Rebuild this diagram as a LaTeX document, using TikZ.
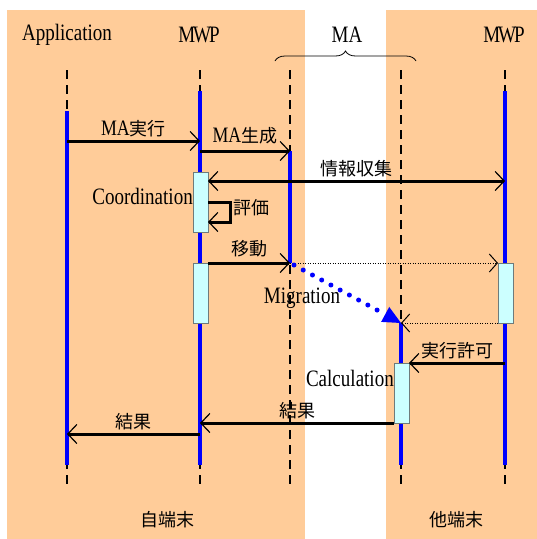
\documentclass[tikz,border=0pt]{standalone}
\usepackage{fontspec}
\setmainfont[FakeStretch=0.81]{Liberation Serif}
\newfontfamily\jfont{Noto Sans CJK JP}
\usetikzlibrary{arrows.meta,decorations.pathreplacing,positioning}

\begin{document}
\begin{tikzpicture}[x=1pt, y=-1pt]
    \definecolor{peachColour}{HTML}{FFCC99}
    \definecolor{lifeColour}{HTML}{0000FF}
    \definecolor{boxColour}{HTML}{CCFFFF}
    \definecolor{boxBorder}{HTML}{6E7B7B}

    \tikzset{
        header/.style={font=\fontsize{23.5}{25}\selectfont, inner sep=0pt},
        jlabel/.style={font=\fontsize{18}{20}\selectfont\jfont, inner sep=2pt},
        life/.style={draw=lifeColour, line width=4.5pt},
        lifedash/.style={draw=black, line width=1.8pt, dash pattern=on 9pt off 6pt},
        actbox/.style={draw=boxBorder, fill=boxColour, line width=1pt,
            minimum width=15pt, minimum height=60pt, inner sep=0pt},
        barb/.tip={Straight Barb[length=9pt, width=19pt, line width'=1.2pt]},
        msg/.style={line width=3pt, -barb},
        dotmsg/.style={line width=1pt, dash pattern=on 1pt off 1.5pt,
            -{Straight Barb[length=8pt, width=18pt, line width'=1pt, sep=0pt]}},
        migrate/.style={draw=lifeColour, line width=5pt, line cap=round,
            dash pattern=on 0pt off 10.5pt,
            -{Triangle[length=18pt, width=17pt, fill=lifeColour, line width'=0pt]}}
    }
    \newcommand\lat[1]{{\rmfamily\fontsize{22}{24}\selectfont #1}}

    \useasboundingbox (0,0) rectangle (537,539);

    % Draw regions
    \fill[peachColour] (7,10) rectangle (305,539);
    \fill[peachColour] (386,10) rectangle (537,539);

    % Draw headers
    \node[header] (app) at (67,35) {Application};
    \node[header] (mwpL) at (199,35) {M\kern-2ptW\kern-2ptP};
    \node[header] (ma) at (347,35) {MA};
    \node[header] (mwpR) at (504,35) {M\kern-2ptW\kern-2ptP};

    % Draw brace under MA
    \coordinate (braceL) at (275,61);
    \coordinate (braceR) at (416,61);
    \draw[decorate, decoration={brace, amplitude=10pt}, line width=0.8pt] (braceL) -- (braceR);

    % Draw dashed lifelines
    \foreach \name/\x in {app/67, mwpL/200, maL/290, maR/401, mwpR/505} {
        \coordinate (\name Top) at (\x,70);
        \coordinate (\name Bot) at (\x,488);
        \draw[lifedash] (\name Top) -- (\name Bot);
    }

    % Draw active lifelines
    \draw[life] (67,111) -- (67,465);
    \draw[life] (200,91) -- (200,465);
    \draw[life] (290,151) -- (290,263);
    \draw[life] (401,323) -- (401,465);
    \draw[life] (505,91) -- (505,465);

    % Draw activation boxes
    \node[actbox] (coord) at (200.5,202) {};
    \node[actbox] (moveL) at (200.5,293) {};
    \node[actbox] (moveR) at (506,293) {};
    \node[actbox] (calc) at (401.5,393.5) {};

    \node[header, anchor=east] (coordLabel) at (193,196) {Coordination};
    \node[header, anchor=east] (calcLabel) at (394,378) {Calculation};

    % MA run: Application -> MWP
    \coordinate (runA) at (67,141);
    \coordinate (runB) at (200,141);
    \draw[msg] (runA) -- (runB) node[jlabel, midway, above=1pt] {\lat{MA}\jfont 実行};

    % MA create: MWP -> MA
    \coordinate (makeA) at (200,151);
    \coordinate (makeB) at (290,151);
    \draw[msg] (makeA) -- (makeB) node[jlabel, midway, above=3pt] {\lat{MA}\jfont 生成};

    % Information gathering
    \coordinate (infoA) at (208,181);
    \coordinate (infoB) at (505,181);
    \draw[msg, barb-barb] (infoA) -- (infoB)
        node[jlabel, midway, above=1pt] {情報収集};

    % Evaluation loop
    \coordinate (evalA) at (208,202);
    \coordinate (evalB) at (230,202);
    \coordinate (evalC) at (230,222);
    \coordinate (evalD) at (208,222);
    \draw[msg] (evalA) -- (evalB) -- (evalC) -- (evalD);
    \node[jlabel, right=1pt of evalB, yshift=-6pt] (evalLabel) {評価};

    % Move: MWP -> MA
    \coordinate (moveA) at (208,263);
    \coordinate (moveB) at (290,263);
    \draw[msg] (moveA) -- (moveB) node[jlabel, midway, above=2pt] {移動};

    % Dotted transfer lines
    \coordinate (dotR) at (498,263);
    \draw[dotmsg] (moveB) -- (dotR);
    \coordinate (dotRB) at (498,323);
    \coordinate (maArrive) at (401,323);
    \draw[dotmsg] (dotRB) -- (maArrive);

    % Migration
    \coordinate (migStart) at (294,265);
    \draw[migrate] (migStart) -- (maArrive);
    \node[header] (migLabel) at (302,298) {Migration};

    % Run permission: MWP -> MA
    \coordinate (permA) at (505,363);
    \coordinate (permB) at (409,363);
    \draw[msg] (permA) -- (permB) node[jlabel, midway, above=1pt] {実行許可};

    % Result: MA -> MWP
    \coordinate (resA) at (394,423);
    \coordinate (resB) at (200,423);
    \draw[msg] (resA) -- (resB) node[jlabel, midway, above=1pt] {結果};

    % Result: MWP -> Application
    \coordinate (resC) at (200,434);
    \coordinate (resD) at (67,434);
    \draw[msg] (resC) -- (resD) node[jlabel, midway, above=1pt] {結果};

    % Terminal labels
    \node[jlabel] (selfTerm) at (167,520) {自端末};
    \node[jlabel] (otherTerm) at (456,520) {他端末};

\end{tikzpicture}
\end{document}
